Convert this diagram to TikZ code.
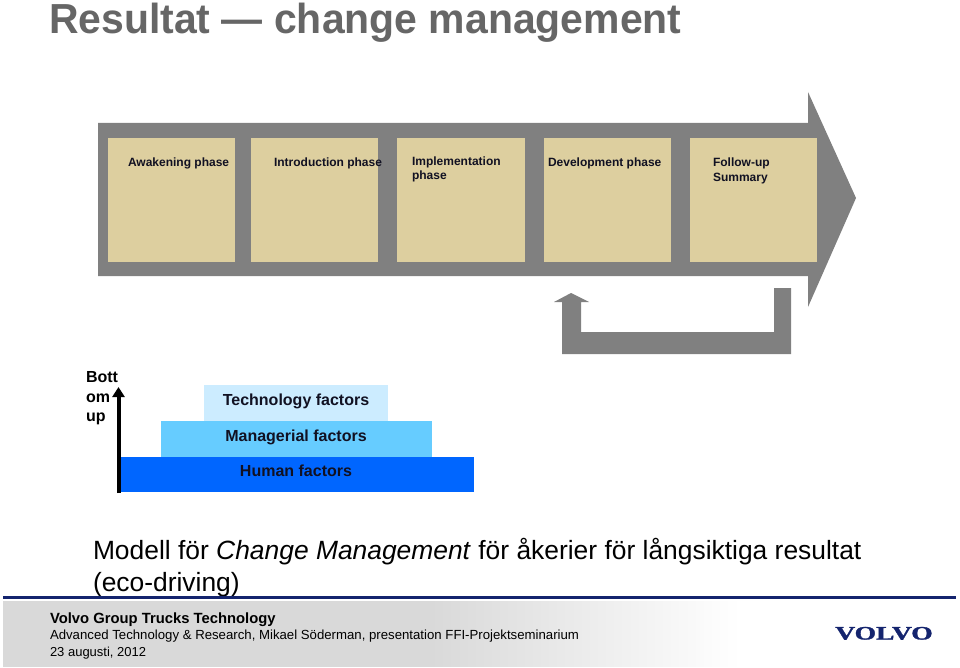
\documentclass[tikz,border=0pt]{standalone}
\usepackage{fontspec}
\setmainfont{Liberation Sans}
\newfontfamily\logofont[BoldFeatures={FakeBold=1.5}]{Liberation Serif}
\usetikzlibrary{arrows.meta}
\definecolor{grayband}{HTML}{808080}
\definecolor{sand}{HTML}{DDCF9F}
\definecolor{titlegray}{HTML}{666666}
\definecolor{navy}{HTML}{14246E}
\definecolor{techblue}{HTML}{CCECFF}
\definecolor{mgrblue}{HTML}{66CCFF}
\definecolor{humblue}{HTML}{0066FF}
\definecolor{inktext}{HTML}{111122}
\definecolor{footgray}{HTML}{D9D9D9}
\pgfdeclarehorizontalshading{footfade}{100bp}{
  color(0bp)=(footgray); color(25bp)=(footgray); color(54bp)=(footgray); color(75bp)=(white); color(100bp)=(white)}
\tikzset{
  x=1pt,y=-1pt,
  lbl/.style={inner sep=0pt,outer sep=0pt,anchor=base west,text=inktext},
  phasetext/.style={lbl,font=\bfseries\fontsize{12}{14}\selectfont,align=left},
  phasebox/.style={fill=sand,draw=none},
  factor/.style={inner sep=0pt,font=\bfseries\fontsize{16}{18}\selectfont,text=inktext,anchor=base},
  sidelbl/.style={lbl,text=black,font=\bfseries\fontsize{16}{18}\selectfont},
  foot/.style={lbl,text=black,font=\fontsize{13.2}{16}\selectfont},
  caption/.style={lbl,text=black,font=\fontsize{26.4}{28}\selectfont},
}
\begin{document}
\begin{tikzpicture}
\useasboundingbox (0,0) rectangle (960,668);
\fill[white] (0,0) rectangle (960,668);
\node[lbl,text=titlegray,font=\bfseries\fontsize{42}{48}\selectfont,xscale=.975] (title) at (49,34) {Resultat — change management};
% main arrow
\fill[grayband] (98,123) -- (808,123) -- (808,92) -- (856,198) -- (808,307) -- (808,276) -- (98,276) -- cycle;
\foreach \a/\b in {108/235,251/378,397/525,544/671,690/817}
  \fill[phasebox] (\a,138) rectangle (\b,262);
\node[phasetext] (p1) at (128,167) {Awakening phase};
\node[phasetext] (p2) at (274,167) {Introduction phase};
\node[phasetext] (p3a) at (412,166) {Implementation};
\node[phasetext] (p3b) at (412,180) {phase};
\node[phasetext] (p4) at (548,167) {Development phase};
\node[phasetext] (p5a) at (713,167) {Follow-up};
\node[phasetext] (p5b) at (713,182) {Summary};
% return arrow
\fill[grayband] (791,288) -- (774,288) -- (774,332) -- (581,332) -- (581,302) -- (589,302) -- (571,293) -- (554,302) -- (562,302) -- (562,354) -- (791,354) -- cycle;
% bottom up
\node[sidelbl] (b1) at (86,382) {Bott};
\node[sidelbl] (b2) at (86,402) {om};
\node[sidelbl] (b3) at (86,421) {up};
% pyramid
\fill[techblue] (204,385) rectangle (388,421);
\fill[mgrblue] (161,421) rectangle (432,457);
\fill[humblue] (120,457) rectangle (474,492);
\coordinate (upstart) at (118.5,493);
\coordinate (upend) at (118.5,387);
\draw[line width=4pt,black,-{Triangle[length=10pt,width=12pt]}] (upstart) -- (upend);
\node[factor] (f1) at (296,405) {Technology factors};
\node[factor] (f2) at (296,441) {Managerial factors};
\node[factor] (f3) at (296,476) {Human factors};
% caption
\node[caption] (c1) at (93,559) {Modell för \textit{Change Management} för åkerier för långsiktiga resultat};
\node[caption] (c2) at (93,591) {(eco-driving)};
% footer
\fill[navy] (3,596) rectangle (956,598.5);
\shade[shading=footfade] (3,601) rectangle (740,666);
\node[lbl,text=black,font=\bfseries\fontsize{14.8}{16}\selectfont] (v1) at (50,623) {Volvo Group Trucks Technology};
\node[foot] (v2) at (50,639) {Advanced Technology \& Research, Mikael Söderman, presentation FFI-Projektseminarium};
\node[foot,font=\fontsize{13}{16}\selectfont] (v3) at (50,656) {23 augusti, 2012};
\node[inner sep=0pt,anchor=base west,text=navy,font=\logofont\bfseries\fontsize{19}{20}\selectfont,xscale=1.45] (logo) at (835,639.5) {VOLVO};
\end{tikzpicture}
\end{document}
